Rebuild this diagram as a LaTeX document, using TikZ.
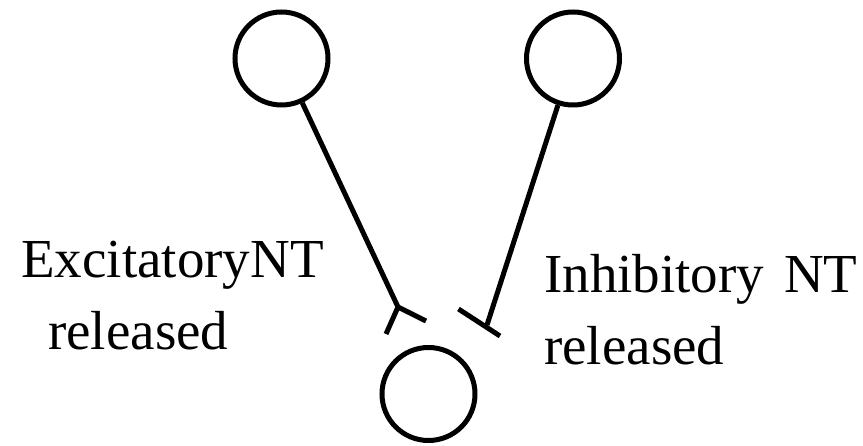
\documentclass[tikz,border=0pt]{standalone}
\usepackage{fontspec}
\setmainfont{Liberation Serif}
\begin{document}
\begin{tikzpicture}[x=1pt,y=-1pt,
  neuron/.style={circle,draw,line width=5pt,minimum size=93pt,inner sep=0pt},
  link/.style={line width=5pt},
  lbl/.style={inner sep=0pt,font=\fontsize{55}{72}\selectfont}]
  \path[use as bounding box] (0,0) rectangle (863,446);

  % neurons
  \node[neuron] (pre1) at (281.5,58.5) {};
  \node[neuron] (pre2) at (573,58.5) {};
  \node[neuron] (post) at (428.5,394) {};

  % excitatory terminal: fork
  \coordinate (fork) at (398,307);
  \coordinate (forkA) at (386,334);
  \coordinate (forkB) at (426,321);
  \draw[link] (pre1) -- (fork);
  \draw[link] (forkA) -- (fork) -- (forkB);

  % inhibitory terminal: bar
  \coordinate (barA) at (458.5,309);
  \coordinate (barB) at (500,336);
  \coordinate (barT) at (487,325);
  \draw[link] (pre2) -- (barT);
  \draw[link] (barA) -- (barB);

  % labels
  \node[lbl,anchor=base west] (exc1) at (21,278) {ExcitatoryNT};
  \node[lbl,anchor=base west] (exc2) at (48,350) {released};
  \node[lbl,anchor=base west] (inh1) at (544,293) {Inhibitory\hspace{0.36em}NT};
  \node[lbl,anchor=base west] (inh2) at (544,365) {released};
\end{tikzpicture}
\end{document}
